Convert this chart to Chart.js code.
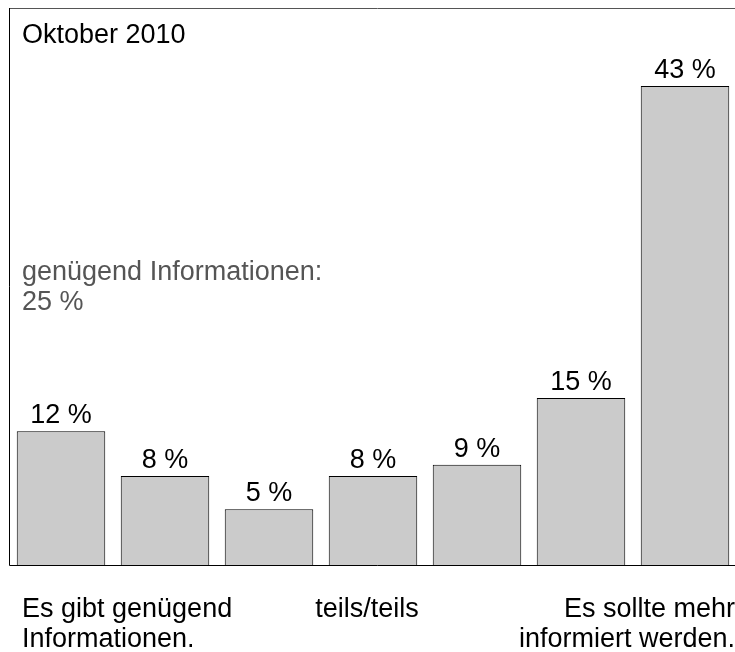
<!DOCTYPE html>
<html>
<head>
<meta charset="utf-8">
<script src="https://cdn.jsdelivr.net/npm/chart.js@4/dist/chart.umd.min.js"></script>
<style>
  html, body { margin: 0; padding: 0; background: #fff; overflow: hidden; }
  #wrap { position: relative; width: 745px; height: 652px; }
</style>
</head>
<body>
<div id="wrap"><canvas id="c"></canvas></div>
<script>
// Umfragewerte (Prozent), Oktober 2010
const categories = ['1', '2', '3', '4', '5', '6', '7'];
const values = [12, 8, 5, 8, 9, 15, 43];
const valueLabels = ['12 %', '8 %', '5 %', '8 %', '9 %', '15 %', '43 %'];
const title = 'Oktober 2010';
const noteLines = ['genügend Informationen:', '25 %'];
const leftAxisLines = ['Es gibt genügend', 'Informationen.'];
const middleAxisLines = ['teils/teils'];
const rightAxisLines = ['Es sollte mehr', 'informiert werden.'];

const FONT = "'Liberation Sans', Arial, sans-serif";

// frame, title, note, bar values and bottom captions
const decorPlugin = {
    id: 'decor',
    afterDatasetsDraw(chart) {
        const { ctx, chartArea: a } = chart;
        const meta = chart.getDatasetMeta(0);
        ctx.save();

        // frame
        ctx.lineWidth = 1;
        ctx.strokeStyle = '#555';
        ctx.beginPath();
        ctx.moveTo(a.left, a.top + 0.5);
        ctx.lineTo(a.right + 20, a.top + 0.5);
        ctx.stroke();
        ctx.strokeStyle = '#000';
        ctx.beginPath();
        ctx.moveTo(a.left + 0.5, a.top);
        ctx.lineTo(a.left + 0.5, a.bottom + 0.5);
        ctx.lineTo(a.right + 20, a.bottom + 0.5);
        ctx.stroke();

        ctx.font = '27px ' + FONT;
        ctx.textBaseline = 'alphabetic';

        // title
        ctx.fillStyle = '#000';
        ctx.textAlign = 'left';
        ctx.fillText(title, a.left + 13, a.top + 35);

        // note
        ctx.fillStyle = '#555';
        noteLines.forEach((t, i) => ctx.fillText(t, a.left + 13, 280 + i * 30));

        // bar values
        ctx.fillStyle = '#000';
        ctx.textAlign = 'center';
        meta.data.forEach((bar, i) => {
            ctx.fillText(valueLabels[i], bar.x, bar.y - 8);
        });

        // captions under axis
        const y0 = a.bottom + 52;
        ctx.textAlign = 'left';
        leftAxisLines.forEach((t, i) => ctx.fillText(t, a.left + 13, y0 + i * 30));
        ctx.textAlign = 'center';
        middleAxisLines.forEach((t, i) => ctx.fillText(t, meta.data[3].x - 6, y0 + i * 30));
        ctx.textAlign = 'right';
        rightAxisLines.forEach((t, i) => ctx.fillText(t, 735, y0 + i * 30));

        ctx.restore();
    }
};

new Chart(document.getElementById('c'), {
    type: 'bar',
    data: {
        labels: categories,
        datasets: [{
            data: values,
            backgroundColor: '#cbcbcb',
            borderColor: '#000',
            borderWidth: 1,
            borderSkipped: 'bottom',
            categoryPercentage: 1.0,
            barPercentage: 0.851,
        }]
    },
    options: {
        responsive: true,
        maintainAspectRatio: false,
        animation: false,
        layout: { padding: { left: 9, right: 8, top: 8, bottom: 87 } },
        plugins: {
            legend: { display: false },
            tooltip: { enabled: false },
        },
        scales: {
            x: { display: false },
            y: { display: false, min: 0, max: 50 },
        }
    },
    plugins: [decorPlugin],
});
</script>
</body>
</html>
